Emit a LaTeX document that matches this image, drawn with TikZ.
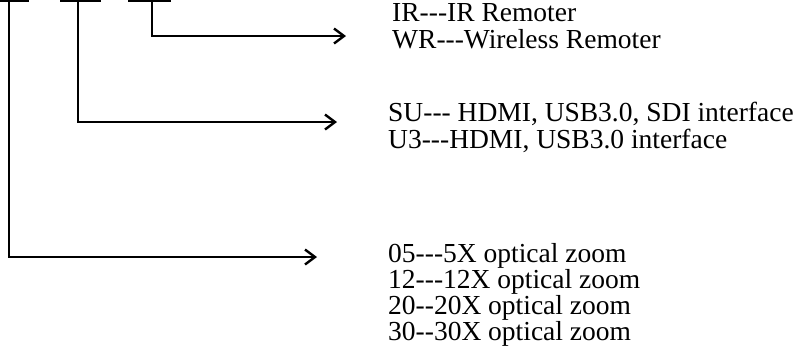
\documentclass[tikz,border=0pt]{standalone}
\usepackage{fontspec}
\newfontfamily\lblfont{Liberation Serif}
\usetikzlibrary{arrows.meta}
\begin{document}
\begin{tikzpicture}[x=1pt,y=-1pt,
  wire/.style={line width=2pt, line cap=rect},
  bar/.style={line width=2pt},
  arr/.style={line width=2.4pt, -{Straight Barb[length=10pt,width=15pt,line width=2.4pt]}},
  lbl/.style={anchor=base west, inner sep=0pt, font=\lblfont\fontsize{27.5}{31}\selectfont}]
\useasboundingbox (0,0) rectangle (804,354);
% top bars
\coordinate (b1l) at (0,0.5);   \coordinate (b1r) at (29,0.5);
\coordinate (b2l) at (60,0.5);  \coordinate (b2r) at (101,0.5);
\coordinate (b3l) at (128,0.5); \coordinate (b3r) at (171,0.5);
\draw[bar] (b1l) -- (b1r);
\draw[bar] (b2l) -- (b2r);
\draw[bar] (b3l) -- (b3r);
% stems
\coordinate (s1) at (9,0);   \coordinate (c1) at (9,257);  \coordinate (e1) at (317,257);
\coordinate (s2) at (78,0);  \coordinate (c2) at (78,122); \coordinate (e2) at (337,122);
\coordinate (s3) at (152,0); \coordinate (c3) at (152,36); \coordinate (e3) at (346,36);
\draw[wire] (s1) -- (c1);
\draw[arr] (c1) -- (e1);
\draw[wire] (s2) -- (c2);
\draw[arr] (c2) -- (e2);
\draw[wire] (s3) -- (c3);
\draw[arr] (c3) -- (e3);
% labels
\node[lbl] (ir) at (392,21) {IR---IR Remoter};
\node[lbl] (wr) at (392,48) {WR---Wireless Remoter};
\node[lbl] (su) at (388,121) {SU--- HDMI, USB3.0, SDI interface};
\node[lbl] (u3) at (388,148) {U3---HDMI, USB3.0 interface};
\node[lbl] (z05) at (388,262) {05---5X optical zoom};
\node[lbl] (z12) at (388,288) {12---12X optical zoom};
\node[lbl] (z20) at (388,314) {20--20X optical zoom};
\node[lbl] (z30) at (388,340) {30--30X optical zoom};
\end{tikzpicture}
\end{document}
